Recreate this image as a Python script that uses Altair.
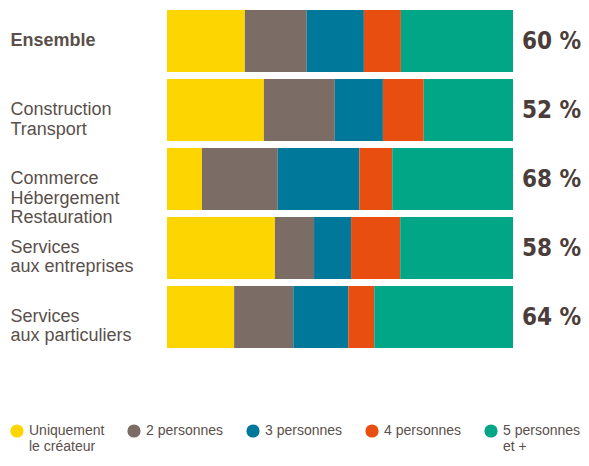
import altair as alt
import pandas as pd

categories = ["Ensemble", "Construction|Transport", "Commerce|Hébergement|Restauration",
              "Services|aux entreprises", "Services|aux particuliers"]
series = ["Uniquement|le créateur", "2 personnes", "3 personnes", "4 personnes", "5 personnes|et +"]
colors = ["#FDD500", "#7B6D65", "#00789A", "#E84E10", "#00A686"]

v_unique = [22.5, 28.0, 10.1, 31.2, 19.4]
v_two = [17.9, 20.5, 21.9, 11.3, 17.1]
v_three = [16.5, 13.9, 23.6, 10.7, 15.9]
v_four = [10.7, 11.8, 9.5, 14.2, 7.5]
v_five = [32.4, 25.8, 34.9, 32.6, 40.1]
pct_labels = ["60 %", "52 %", "68 %", "58 %", "64 %"]

cols = [v_unique, v_two, v_three, v_four, v_five]
rows = []
for ci, cat in enumerate(categories):
    for si, s in enumerate(series):
        rows.append({"category": cat, "series": s, "order": si,
                     "value": cols[si][ci], "pct": pct_labels[ci]})
df = pd.DataFrame(rows)

yenc = alt.Y("category:N", sort=categories, title=None,
             scale=alt.Scale(paddingInner=0.1, paddingOuter=0),
             axis=alt.Axis(labelExpr="split(datum.label, '|')", labelAlign="left",
                           labelBaseline="middle", labelPadding=157, tickSize=0, ticks=False,
                           domain=False, labelFontSize=18, labelLineHeight=19.5,
                           labelFont="Liberation Sans", labelColor="#5a4f4b",
                           labelFontWeight=alt.condition("datum.value == 'Ensemble'",
                                                         alt.value("bold"), alt.value("normal")),
                           labelLimit=200))

legend_expr = "split(datum.label + (indexof(datum.label, '|') >= 0 ? '' : '|'), '|')"

base = alt.Chart(df)

bars = base.mark_bar(size=62).encode(
    x=alt.X("value:Q", stack="zero", scale=alt.Scale(domain=[0, 100]), axis=None),
    y=yenc,
    color=alt.Color("series:N", sort=series,
                    scale=alt.Scale(domain=series, range=colors),
                    legend=alt.Legend(title=None, orient="none", legendX=-157, legendY=414,
                                      direction="horizontal", columns=5, columnPadding=22,
                                      symbolType="circle", symbolSize=175, symbolStrokeWidth=0,
                                      labelExpr=legend_expr, labelBaseline="middle",
                                      labelFontSize=14, labelFont="Liberation Sans",
                                      labelColor="#5a4f4b", labelOffset=5, labelLimit=200)),
    order=alt.Order("order:Q"),
)

text = base.transform_aggregate(
    total="sum(value)", groupby=["category", "pct"]
).mark_text(align="left", baseline="middle", dx=9, dy=1,
            font="DejaVu Sans Condensed", fontWeight="bold",
            fontSize=24, color="#4a3d3a").encode(
    x=alt.X("total:Q", scale=alt.Scale(domain=[0, 100])),
    y=alt.Y("category:N", sort=categories),
    text="pct:N",
)

chart = alt.layer(bars, text).properties(
    width=346, height=338, background="white",
    autosize=alt.AutoSizeParams(type="none"),
    padding={"left": 159, "top": 2, "right": 68, "bottom": 106},
).configure_view(stroke=None)

chart.save("out.html", embed_options={"renderer": "svg", "actions": False})
